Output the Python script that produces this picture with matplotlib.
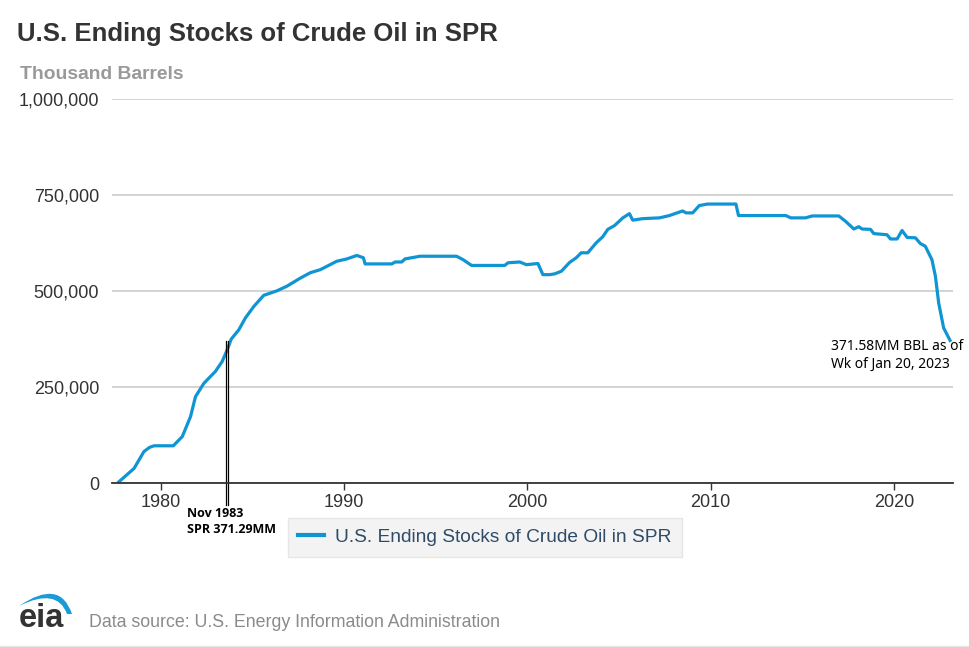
import matplotlib.pyplot as plt
from matplotlib.path import Path
from matplotlib.patches import PathPatch
from matplotlib.ticker import FuncFormatter

# SPR ending stocks, thousand barrels
years = [1977.72, 1978.55, 1979.09, 1979.40, 1979.64, 1980.69, 1981.18, 1981.63, 1981.90,
         1982.36, 1982.99, 1983.36, 1983.63, 1983.85, 1984.26, 1984.62, 1985.08, 1985.62,
         1986.35, 1986.89, 1987.62, 1988.16, 1988.71, 1989.61, 1990.16, 1990.70, 1991.06,
         1991.15, 1992.61, 1992.79, 1993.15, 1993.33, 1994.15, 1996.14, 1996.50, 1996.96,
         1998.77, 1998.95, 1999.59, 1999.95, 2000.58, 2000.85, 2001.22, 2001.49, 2001.86,
         2002.31, 2002.67, 2002.94, 2003.30, 2003.76, 2004.12, 2004.39, 2004.76, 2005.21,
         2005.57, 2005.75, 2006.30, 2007.21, 2007.75, 2008.47, 2008.66, 2009.02, 2009.38,
         2009.83, 2011.38, 2011.52, 2014.10, 2014.37, 2015.18, 2015.54, 2016.99, 2017.36,
         2017.81, 2018.08, 2018.26, 2018.72, 2018.90, 2019.62, 2019.81, 2020.17, 2020.44,
         2020.72, 2021.17, 2021.44, 2021.71, 2022.07, 2022.26, 2022.44, 2022.71, 2023.06]
stocks = [3000, 38000, 82000, 93000, 97000, 97000, 121000, 173000, 225000,
          260000, 291000, 317000, 347000, 375000, 399000, 430000, 460000, 489000,
          501000, 513000, 534000, 548000, 556000, 578000, 584000, 593000, 587000,
          571000, 571000, 576000, 576000, 584000, 591000, 591000, 582000, 567000,
          567000, 574000, 576000, 569000, 572000, 543000, 543000, 545000, 552000,
          575000, 587000, 600000, 600000, 626000, 642000, 661000, 671000, 691000,
          702000, 685000, 689000, 691000, 697000, 709000, 704000, 704000, 723000,
          727000, 727000, 697000, 697000, 691000, 691000, 696000, 696000, 682000,
          662000, 668000, 662000, 661000, 650000, 647000, 636000, 636000, 658000,
          640000, 639000, 624000, 617000, 582000, 539000, 469000, 404000, 371580]

x_ticks = [1980, 1990, 2000, 2010, 2020]
y_ticks = [0, 250000, 500000, 750000, 1000000]

# annotation marker for Nov 1983
nov83_x = 1983.6
nov83_val = 371290

series_name = "U.S. Ending Stocks of Crude Oil in SPR"
blue = '#0f95d3'

fig = plt.figure(figsize=(9.7, 6.47), dpi=100)
W, H = 970, 647
ax = fig.add_axes([111.7 / W, 1 - 483 / H, (953 - 111.7) / W, (483 - 99.3) / H])

line, = ax.plot(years, stocks, color=blue, lw=2.3, solid_joinstyle='round', label=series_name)

ax.set_xlim(1977.33, 2023.22)
ax.set_ylim(0, 1000000)
ax.set_xticks(x_ticks)
ax.set_yticks(y_ticks)
ax.yaxis.set_major_formatter(FuncFormatter(lambda v, p: f"{int(v):,}"))
ax.grid(axis='y', color='#c8c8c8', lw=1.1)
ax.set_axisbelow(True)
for s in ['top', 'right', 'left']:
    ax.spines[s].set_visible(False)
ax.spines['bottom'].set_color('#333333')
ax.spines['bottom'].set_linewidth(1.3)
ax.tick_params(axis='y', length=0, pad=9, labelsize=13, labelcolor='#333333')
ax.tick_params(axis='x', length=5, width=1, color='#333333', pad=3, labelsize=13, labelcolor='#333333')
for lab in ax.get_xticklabels() + ax.get_yticklabels():
    lab.set_fontfamily('Liberation Sans')

# Nov 1983 marker (double thin line)
for dx in (-0.06, 0.06):
    ax.plot([nov83_x + dx, nov83_x + dx], [nov83_val, -57000], color='black', lw=0.9, clip_on=False)
ax.annotate("Nov 1983\nSPR 371.29MM", xy=(nov83_x, 0), xytext=(-40, -24), textcoords='offset pixels',
            fontsize=9, fontweight='bold', family=['Open Sans', 'DejaVu Sans'], color='black',
            va='top', ha='left', linespacing=1.3, annotation_clip=False)

# last value label
ax.annotate("371.58MM BBL as of\nWk of Jan 20, 2023", xy=(years[-1], stocks[-1]), xytext=(-119, 1),
            textcoords='offset pixels', fontsize=10, family='Noto Sans', color='black',
            va='top', ha='left', linespacing=1.25, annotation_clip=False)

# titles
fig.text(17 / W, 1 - 41 / H, "U.S. Ending Stocks of Crude Oil in SPR", fontsize=18.5, fontweight='bold',
         family='Liberation Sans', color='#333333', va='baseline')
fig.text(20 / W, 1 - 79 / H, "Thousand Barrels", fontsize=13.9, fontweight='bold',
         family='Liberation Sans', color='#999999', va='baseline')

# legend
leg = fig.legend(handles=[line], loc='center', bbox_to_anchor=(485 / W, 1 - 537.5 / H),
                 frameon=True, fancybox=False, facecolor='#f0f0f0', edgecolor='#e2e2e2',
                 prop={'family': 'Liberation Sans', 'size': 13.8}, handlelength=1.35,
                 handletextpad=0.6, borderpad=0.55, borderaxespad=0)
leg.get_frame().set_linewidth(1)
for t in leg.get_texts():
    t.set_color('#2f4b68')
leg.get_lines()[0].set_linewidth(3)

# footer: eia logo + source
verts = [(19, 606), (60, 578), (72, 614), (67, 614), (57, 587), (19, 606), (19, 606)]
codes = [Path.MOVETO, Path.CURVE3, Path.CURVE3, Path.LINETO, Path.CURVE3, Path.CURVE3, Path.CLOSEPOLY]
verts = [(x / W, 1 - y / H) for x, y in verts]
fig.patches.append(PathPatch(Path(verts, codes), transform=fig.transFigure, facecolor='#1a9ad6',
                             edgecolor='none'))
fig.text(19 / W, 1 - 627 / H, "eia", fontsize=23.5, fontweight='bold', family='Liberation Sans',
         color='#333333', va='baseline')
fig.text(89 / W, 1 - 627 / H, "Data source: U.S. Energy Information Administration", fontsize=12.8,
         family='Liberation Sans', color='#8a8a8a', va='baseline')
fig.add_artist(plt.Line2D([0, 1], [1 - 645.5 / H, 1 - 645.5 / H], transform=fig.transFigure,
                          color='#e6e6e6', lw=1))

fig.savefig('out.png', dpi=100, facecolor='white')
